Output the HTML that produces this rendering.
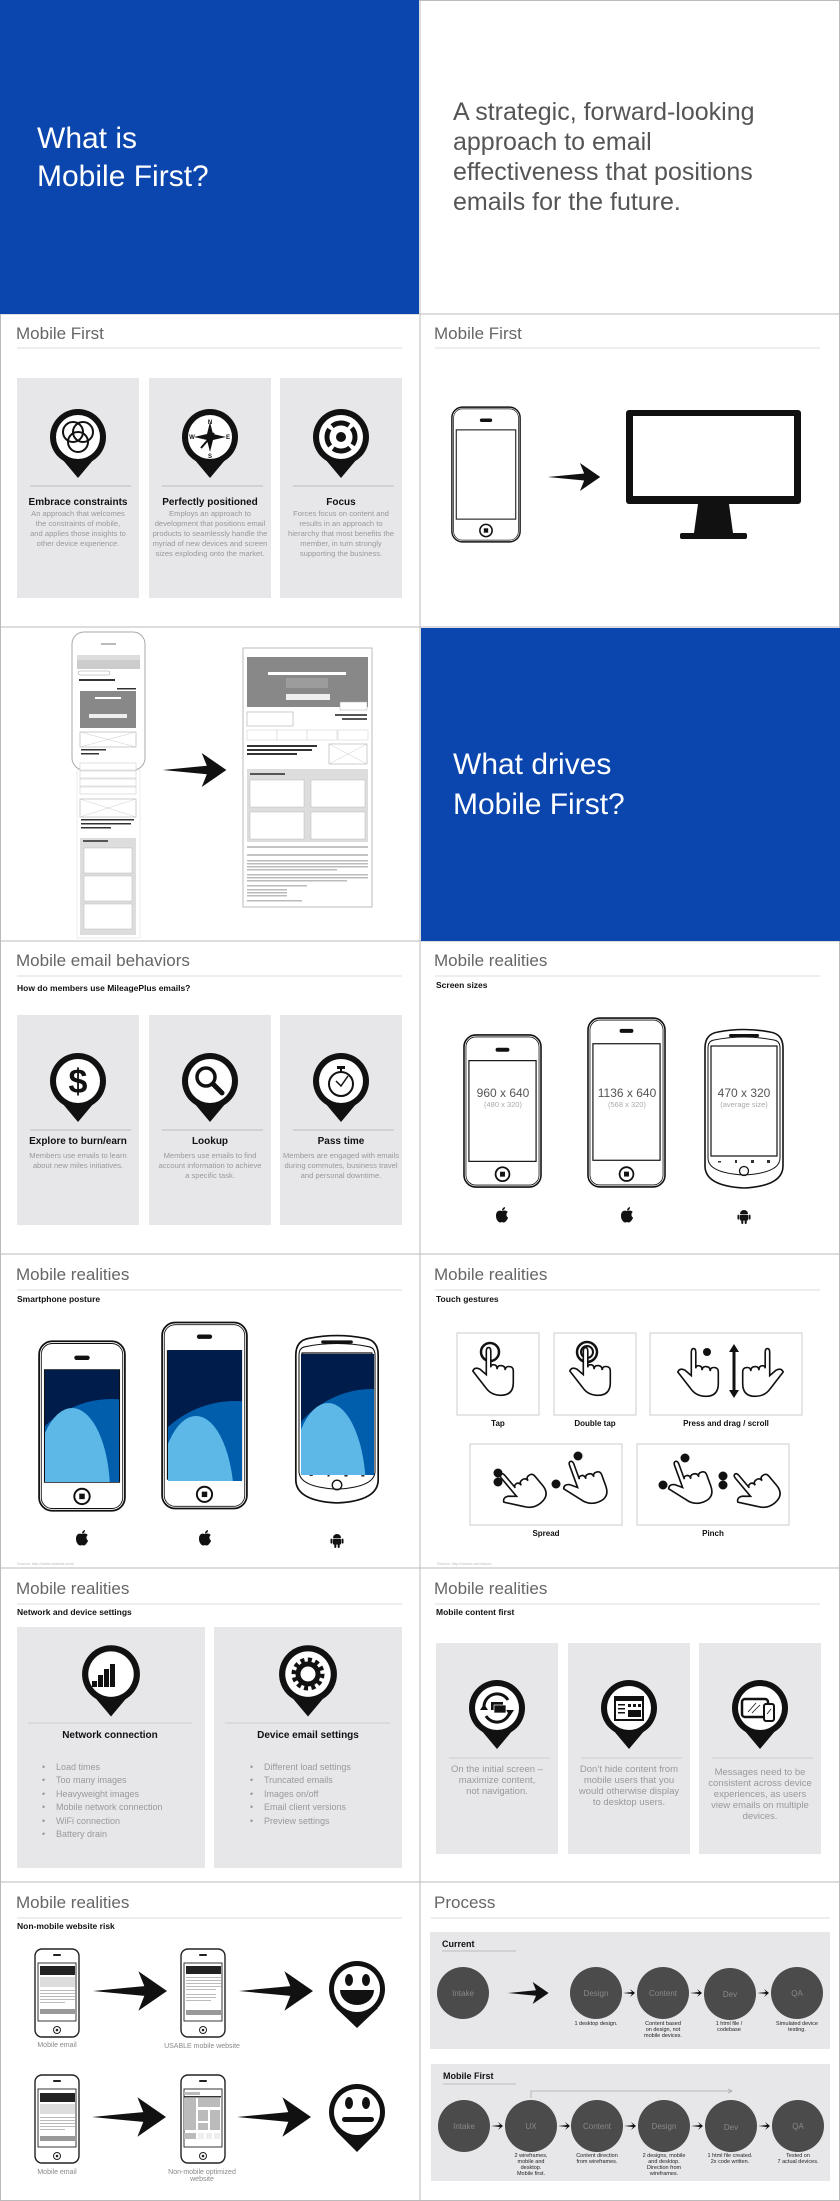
<!DOCTYPE html>
<html><head><meta charset="utf-8"><style>
html,body{margin:0;padding:0;background:#fff}
svg{display:block}
text{font-family:"Liberation Sans",sans-serif}
.t{font-size:17px;fill:#666}
.st{font-size:8.5px;font-weight:bold;fill:#111}
.ct{font-size:10px;font-weight:bold;fill:#111;text-anchor:middle}
.cd{font-size:7.6px;fill:#999;text-anchor:middle}
.bl{font-size:9px;fill:#999}
.pc{font-size:8px;fill:#888;text-anchor:middle}
.cap{font-size:5.5px;fill:#222;text-anchor:middle}
</style></head><body>
<svg width="840" height="2201" viewBox="0 0 840 2201" xmlns="http://www.w3.org/2000/svg">
<defs>
<symbol id="pin" viewBox="0 0 60 80"><circle cx="30" cy="30" r="28" fill="#111"/><polygon points="9,46 51,46 30,71" fill="#111"/><circle cx="30" cy="30" r="22" fill="#fff"/></symbol>
<symbol id="ip4" viewBox="0 0 80 156"><rect x="1" y="1" width="78" height="154" rx="12" fill="#fff" stroke="#111" stroke-width="1.6"/><rect x="3" y="3" width="74" height="150" rx="10" fill="none" stroke="#111" stroke-width="0.8"/><rect x="33" y="14" width="14" height="4" rx="2" fill="#111"/><rect x="6" y="27" width="68" height="102" fill="none" stroke="#111" stroke-width="1.2"/><circle cx="40" cy="142" r="7" fill="none" stroke="#111" stroke-width="1.8"/><rect x="37.5" y="139.5" width="5" height="5" fill="#111"/></symbol>
<symbol id="ip5" viewBox="0 0 80 173"><rect x="1" y="1" width="78" height="171" rx="12" fill="#fff" stroke="#111" stroke-width="1.6"/><rect x="3" y="3" width="74" height="167" rx="10" fill="none" stroke="#111" stroke-width="0.8"/><rect x="33" y="12" width="14" height="4" rx="2" fill="#111"/><rect x="6" y="27" width="68" height="118" fill="none" stroke="#111" stroke-width="1.2"/><circle cx="40" cy="159" r="7" fill="none" stroke="#111" stroke-width="1.8"/><rect x="37.5" y="156.5" width="5" height="5" fill="#111"/></symbol>
<symbol id="andr" viewBox="0 0 80 161"><path d="M14 4 Q40 -1 66 4 Q79 6 79 20 V138 Q79 158 40 160 Q1 158 1 138 V20 Q1 6 14 4Z" fill="#fff" stroke="#111" stroke-width="1.6"/><path d="M10 12 Q40 6 70 12 Q76 13 76 20 V130 Q76 145 40 147 Q4 145 4 130 V20 Q4 13 10 12Z" fill="none" stroke="#111" stroke-width="1"/><rect x="25" y="6" width="30" height="3" rx="1.5" fill="#111"/><rect x="7" y="18" width="66" height="110" fill="none" stroke="#111" stroke-width="1.2"/><circle cx="40" cy="143" r="4.5" fill="none" stroke="#111" stroke-width="1.3"/><g fill="#333"><rect x="14" y="133" width="3" height="1.5"/><rect x="31" y="132" width="2" height="3"/><rect x="47" y="132" width="3" height="3"/><rect x="63" y="132" width="3" height="3"/></g></symbol>
<symbol id="sip" viewBox="0 0 46 90"><rect x="1" y="1" width="44" height="88" rx="7" fill="#fff" stroke="#222" stroke-width="1.4"/><rect x="19" y="6" width="8" height="2" rx="1" fill="#222"/><rect x="4" y="15" width="38" height="58" fill="#fff" stroke="#222" stroke-width="0.9"/><circle cx="23" cy="82" r="3.5" fill="none" stroke="#222" stroke-width="1"/><circle cx="23" cy="82" r="1.3" fill="#222"/></symbol>
<symbol id="arrow" viewBox="0 0 75 40"><polygon points="0,20 52,15 46,0 75,20 46,40 52,25" fill="#111"/></symbol>
<symbol id="apple" viewBox="0 0 14 16"><path d="M7 4 C4 3 1 4 1 9 C1 13 4 16 5.5 15.5 C6.5 15 7.5 15 8.5 15.5 C10 16 13 12 13 10.5 C11 9.5 11 6 12.8 5 C11.5 3.5 9.5 3 7 4Z" fill="#111"/><path d="M7 3.5 C7 2 8 0.5 10 0 C10 2 9 3.2 7 3.5Z" fill="#111"/></symbol>
<symbol id="droid" viewBox="0 0 14 16"><path d="M3 6 A4 4 0 0 1 11 6Z" fill="#111"/><rect x="3" y="6.6" width="8" height="6" rx="1" fill="#111"/><rect x="0.5" y="6.6" width="2" height="5" rx="1" fill="#111"/><rect x="11.5" y="6.6" width="2" height="5" rx="1" fill="#111"/><rect x="4.3" y="12" width="2" height="4" rx="1" fill="#111"/><rect x="7.7" y="12" width="2" height="4" rx="1" fill="#111"/></symbol>
<symbol id="hand" viewBox="0 0 50 60"><path d="M17 8 V34 L10 28 Q4 25 2 30 L16 48 Q22 57 33 57 Q47 57 47 43 V30 Q47 25 42 25 Q38 25 38 29 Q38 24 33 24 Q29 24 29 28 Q29 23 25 23 Q22 23 22 26 V8 Q22 4 19.5 4 Q17 4 17 8Z" fill="#fff" stroke="#111" stroke-width="1.8"/></symbol>
<clipPath id="c1"><rect x="45" y="1370" width="74" height="112"/></clipPath>
<clipPath id="c2"><rect x="168" y="1350" width="74" height="131"/></clipPath>
<clipPath id="c3"><rect x="301" y="1354" width="73" height="121"/></clipPath>
</defs>

<g fill="none" stroke="#bbb" stroke-width="1">
<rect x="0.5" y="0.5" width="839" height="2200"/>
<line x1="420" y1="0" x2="420" y2="2201"/>
<line x1="0" y1="314" x2="840" y2="314"/><line x1="0" y1="627" x2="840" y2="627"/><line x1="0" y1="941" x2="840" y2="941"/><line x1="0" y1="1254" x2="840" y2="1254"/><line x1="0" y1="1568" x2="840" y2="1568"/><line x1="0" y1="1882" x2="840" y2="1882"/>
</g>

<rect x="0" y="0" width="419" height="314" fill="#0a46ad"/>
<text x="37" y="148" font-size="30" fill="#fff">What is</text>
<text x="37" y="186" font-size="30" fill="#fff">Mobile First?</text>
<g font-size="25" fill="#555"><text x="453" y="120">A strategic, forward-looking</text><text x="453" y="150">approach to email</text><text x="453" y="180">effectiveness that positions</text><text x="453" y="210">emails for the future.</text></g>

<text class="t" x="16" y="339">Mobile First</text><line x1="17" y1="348" x2="402" y2="348" stroke="#ddd"/>
<g fill="#e7e7ea"><rect x="17" y="378" width="122" height="220"/><rect x="149" y="378" width="122" height="220"/><rect x="280" y="378" width="122" height="220"/></g>
<use href="#pin" x="48" y="407" width="60" height="80"/><use href="#pin" x="180" y="407" width="60" height="80"/><use href="#pin" x="311" y="407" width="60" height="80"/>
<g fill="none" stroke="#111" stroke-width="2"><circle cx="73" cy="432" r="10"/><circle cx="83" cy="432" r="10"/><circle cx="78" cy="442" r="10"/></g>
<g fill="#111"><polygon points="210,422 213,434 226,437 213,440 210,452 207,440 194,437 207,434"/><line x1="201" y1="448" x2="214" y2="433" stroke="#111" stroke-width="2"/><text x="210" y="424" font-size="6" text-anchor="middle" font-weight="bold">N</text><text x="210" y="458" font-size="6" text-anchor="middle" font-weight="bold">S</text><text x="192" y="439" font-size="6" text-anchor="middle" font-weight="bold">W</text><text x="228" y="439" font-size="6" text-anchor="middle" font-weight="bold">E</text></g>
<circle cx="341" cy="437" r="14" fill="none" stroke="#111" stroke-width="5" stroke-dasharray="18 4" transform="rotate(-40 341 437)"/><circle cx="341" cy="437" r="5" fill="#111"/>
<g stroke="#bbb"><line x1="30" y1="486" x2="131" y2="486"/><line x1="162" y1="486" x2="263" y2="486"/><line x1="293" y1="486" x2="394" y2="486"/></g>
<text class="ct" x="78" y="505">Embrace constraints</text><text class="ct" x="210" y="505">Perfectly positioned</text><text class="ct" x="341" y="505">Focus</text>
<g class="cd"><text x="78" y="516" class="cd">An approach that welcomes</text><text x="78" y="526" class="cd">the constraints of mobile,</text><text x="78" y="536" class="cd">and applies those insights to</text><text x="78" y="546" class="cd">other device experience.</text>
<text x="210" y="516" class="cd">Employs an approach to</text><text x="210" y="526" class="cd">development that positions email</text><text x="210" y="536" class="cd">products to seamlessly handle the</text><text x="210" y="546" class="cd">myriad of new devices and screen</text><text x="210" y="556" class="cd">sizes exploding onto the market.</text>
<text x="341" y="516" class="cd">Forces focus on content and</text><text x="341" y="526" class="cd">results in an approach to</text><text x="341" y="536" class="cd">hierarchy that most benefits the</text><text x="341" y="546" class="cd">member, in turn strongly</text><text x="341" y="556" class="cd">supporting the business.</text></g>

<text class="t" x="434" y="339">Mobile First</text><line x1="435" y1="348" x2="820" y2="348" stroke="#ddd"/>
<use href="#ip4" x="451" y="406" width="70" height="137"/>
<use href="#arrow" x="543" y="463" width="62" height="28"/>
<rect x="626" y="410" width="175" height="94" rx="3" fill="#111"/><rect x="633" y="416" width="161" height="80" fill="#fff"/>
<polygon points="698,504 729,504 733,533 694,533" fill="#111"/><rect x="680" y="533" width="67" height="6" rx="2" fill="#111"/>

<rect x="72" y="632" width="73" height="138" rx="12" fill="#fff" stroke="#aaa"/>
<rect x="101" y="643" width="15" height="2" fill="#bbb"/>
<rect x="77" y="655" width="63" height="5" fill="#ddd"/><rect x="77" y="660" width="63" height="9" fill="#ccc"/>
<rect x="78" y="671" width="32" height="4" rx="2" fill="#fff" stroke="#999" stroke-width="0.5"/>
<rect x="79" y="679" width="36" height="2" fill="#333"/><rect x="117" y="688" width="19" height="1.5" fill="#333"/>
<rect x="80" y="691" width="56" height="37" fill="#888"/><rect x="89" y="714" width="38" height="4" fill="#eee"/><rect x="95" y="697" width="26" height="2" fill="#fff"/>
<rect x="80" y="732" width="56" height="15" fill="#fff" stroke="#aaa" stroke-width="0.6"/><path d="M80 732 L136 747 M136 732 L80 747" stroke="#ccc" stroke-width="0.5"/>
<rect x="81" y="749" width="25" height="1.5" fill="#333"/><rect x="81" y="753" width="18" height="1.5" fill="#333"/>
<rect x="77" y="770" width="63" height="168" fill="#fff" stroke="#ddd" stroke-width="0.5"/>
<g fill="#fff" stroke="#ccc" stroke-width="0.6"><rect x="80" y="763" width="56" height="7"/><rect x="80" y="771" width="56" height="7"/><rect x="80" y="779" width="56" height="7"/><rect x="80" y="787" width="56" height="7"/></g>
<rect x="80" y="799" width="56" height="18" fill="#fff" stroke="#aaa" stroke-width="0.6"/><path d="M80 799 L136 817 M136 799 L80 817" stroke="#ccc" stroke-width="0.5"/>
<rect x="81" y="819" width="53" height="1.5" fill="#333"/><rect x="81" y="823" width="50" height="1.5" fill="#333"/><rect x="81" y="827" width="30" height="1.5" fill="#333"/>
<rect x="80" y="838" width="56" height="97" fill="#ddd"/><rect x="83" y="840" width="25" height="2" fill="#555"/>
<g fill="#fff" stroke="#bbb" stroke-width="0.5"><rect x="84" y="848" width="48" height="25"/><rect x="84" y="876" width="48" height="25"/><rect x="84" y="904" width="48" height="25"/></g>
<use href="#arrow" x="157" y="753" width="75" height="34"/>
<rect x="243" y="648" width="129" height="259" fill="#fff" stroke="#bbb"/>
<rect x="247" y="657" width="121" height="50" fill="#888"/><rect x="268" y="672" width="78" height="3" fill="#fff"/><rect x="286" y="678" width="42" height="10" fill="#aaa" opacity="0.6"/><rect x="286" y="694" width="44" height="6" fill="#eee"/>
<rect x="340" y="702" width="27" height="8" fill="#fff" stroke="#aaa" stroke-width="0.5"/>
<rect x="247" y="712" width="46" height="14" fill="#fff" stroke="#aaa" stroke-width="0.6"/><rect x="335" y="714" width="32" height="2" fill="#555"/><rect x="342" y="718" width="25" height="2" fill="#555"/>
<g fill="#fff" stroke="#ccc" stroke-width="0.5"><rect x="247" y="730" width="30" height="10"/><rect x="277" y="730" width="30" height="10"/><rect x="307" y="730" width="30" height="10"/><rect x="338" y="730" width="30" height="10"/></g>
<rect x="247" y="745" width="70" height="2" fill="#333"/><rect x="247" y="749" width="65" height="2" fill="#333"/><rect x="247" y="753" width="50" height="2" fill="#333"/>
<rect x="329" y="744" width="38" height="20" fill="#fff" stroke="#aaa" stroke-width="0.6"/><path d="M329 744 L367 764 M367 744 L329 764" stroke="#ccc" stroke-width="0.5"/>
<rect x="247" y="769" width="121" height="73" fill="#ddd"/><rect x="250" y="773" width="35" height="2" fill="#555"/>
<g fill="#fff" stroke="#bbb" stroke-width="0.5"><rect x="250" y="780" width="54" height="27"/><rect x="311" y="780" width="54" height="27"/><rect x="250" y="812" width="54" height="27"/><rect x="311" y="812" width="54" height="27"/></g>
<line x1="247" y1="847" x2="368" y2="847" stroke="#888"/><line x1="247" y1="855" x2="368" y2="855" stroke="#888"/>
<g fill="#bbb"><rect x="247" y="860" width="121" height="1.5"/><rect x="247" y="863" width="121" height="1.5"/><rect x="247" y="866" width="121" height="1.5"/><rect x="247" y="869" width="90" height="1.5"/><rect x="247" y="874" width="121" height="1.5"/><rect x="247" y="877" width="121" height="1.5"/><rect x="247" y="880" width="100" height="1.5"/><rect x="247" y="885" width="60" height="1.5"/><rect x="247" y="889" width="40" height="1.5"/><rect x="247" y="892" width="40" height="1.5"/><rect x="247" y="895" width="40" height="1.5"/><rect x="247" y="900" width="55" height="1.5"/></g>

<rect x="421" y="628" width="419" height="313" fill="#0a46ad"/>
<text x="453" y="774" font-size="30" fill="#fff">What drives</text>
<text x="453" y="814" font-size="30" fill="#fff">Mobile First?</text>

<text class="t" x="16" y="966">Mobile email behaviors</text><line x1="17" y1="976" x2="402" y2="976" stroke="#ddd"/>
<text class="st" x="17" y="991">How do members use MileagePlus emails?</text>
<g fill="#e7e7ea"><rect x="17" y="1015" width="122" height="210"/><rect x="149" y="1015" width="122" height="210"/><rect x="280" y="1015" width="122" height="210"/></g>
<use href="#pin" x="48" y="1051" width="60" height="80"/><use href="#pin" x="180" y="1051" width="60" height="80"/><use href="#pin" x="311" y="1051" width="60" height="80"/>
<text x="78" y="1093" font-size="34" font-weight="bold" text-anchor="middle" fill="#111">$</text>
<circle cx="206" cy="1077" r="9" fill="none" stroke="#111" stroke-width="3.5"/><line x1="213" y1="1084" x2="222" y2="1093" stroke="#111" stroke-width="5" stroke-linecap="round"/>
<circle cx="341" cy="1084" r="12" fill="none" stroke="#111" stroke-width="2"/><rect x="337" y="1066" width="8" height="3" fill="#111"/><line x1="341" y1="1069" x2="341" y2="1072" stroke="#111" stroke-width="2"/><path d="M336 1081 L341 1086 L348 1076" fill="none" stroke="#111" stroke-width="1.5"/>
<g stroke="#bbb"><line x1="30" y1="1130" x2="131" y2="1130"/><line x1="162" y1="1130" x2="263" y2="1130"/><line x1="293" y1="1130" x2="394" y2="1130"/></g>
<text class="ct" x="78" y="1144">Explore to burn/earn</text><text class="ct" x="210" y="1144">Lookup</text><text class="ct" x="341" y="1144">Pass time</text>
<text x="78" y="1158" class="cd">Members use emails to learn</text><text x="78" y="1168" class="cd">about new miles initiatives.</text>
<text x="210" y="1158" class="cd">Members use emails to find</text><text x="210" y="1168" class="cd">account information to achieve</text><text x="210" y="1178" class="cd">a specific task.</text>
<text x="341" y="1158" class="cd">Members are engaged with emails</text><text x="341" y="1168" class="cd">during commutes, business travel</text><text x="341" y="1178" class="cd">and personal downtime.</text>

<text class="t" x="434" y="966">Mobile realities</text><line x1="435" y1="976" x2="820" y2="976" stroke="#ddd"/>
<text class="st" x="436" y="988">Screen sizes</text>
<use href="#ip4" x="463" y="1033" width="79" height="156"/>
<use href="#ip5" x="587" y="1016" width="79" height="173"/>
<use href="#andr" x="704" y="1028" width="80" height="161"/>
<g text-anchor="middle"><text x="503" y="1097" font-size="12" fill="#555">960 x 640</text><text x="503" y="1107" font-size="7.5" fill="#aaa">(480 x 320)</text>
<text x="627" y="1097" font-size="12" fill="#555">1136 x 640</text><text x="627" y="1107" font-size="7.5" fill="#aaa">(568 x 320)</text>
<text x="744" y="1097" font-size="12" fill="#555">470 x 320</text><text x="744" y="1107" font-size="7.5" fill="#aaa">(average size)</text></g>
<use href="#apple" x="495" y="1207" width="14" height="16"/><use href="#apple" x="620" y="1207" width="14" height="16"/><use href="#droid" x="737" y="1208" width="14" height="16"/>

<text class="t" x="16" y="1280">Mobile realities</text><line x1="17" y1="1290" x2="402" y2="1290" stroke="#ddd"/>
<text class="st" x="17" y="1302">Smartphone posture</text>
<use href="#ip4" x="38" y="1340" width="88" height="172"/>
<use href="#ip5" x="161" y="1320" width="87" height="191"/>
<use href="#andr" x="293" y="1334" width="88" height="170"/>
<g clip-path="url(#c1)"><rect x="45" y="1370" width="74" height="112" fill="#001c4b"/><ellipse cx="112" cy="1492" rx="95" ry="93" fill="#005ead"/><ellipse cx="72" cy="1492" rx="38" ry="84" fill="#5db8e8"/></g>
<g clip-path="url(#c2)"><rect x="168" y="1350" width="74" height="131" fill="#001c4b"/><ellipse cx="235" cy="1502" rx="100" ry="101" fill="#005ead"/><ellipse cx="196" cy="1502" rx="38" ry="86" fill="#5db8e8"/></g>
<g clip-path="url(#c3)"><rect x="301" y="1354" width="73" height="121" fill="#001c4b"/><ellipse cx="372" cy="1492" rx="97" ry="103" fill="#005ead"/><ellipse cx="328" cy="1492" rx="38" ry="89" fill="#5db8e8"/></g>
<use href="#apple" x="75" y="1530" width="14" height="16"/><use href="#apple" x="198" y="1530" width="14" height="16"/><use href="#droid" x="330" y="1532" width="14" height="16"/>
<text x="17" y="1565" font-size="4" fill="#bbb">Source: http://www.statista.com/</text>

<text class="t" x="434" y="1280">Mobile realities</text><line x1="435" y1="1290" x2="820" y2="1290" stroke="#ddd"/>
<text class="st" x="436" y="1302">Touch gestures</text>
<g fill="#fff" stroke="#ccc"><rect x="457" y="1333" width="82" height="82"/><rect x="554" y="1333" width="82" height="82"/><rect x="650" y="1333" width="152" height="82"/><rect x="470" y="1444" width="152" height="81"/><rect x="637" y="1444" width="152" height="81"/></g>
<circle cx="490" cy="1352" r="9" fill="none" stroke="#111" stroke-width="2.5"/><use href="#hand" x="471" y="1344" width="45" height="54"/>
<circle cx="587" cy="1352" r="10" fill="none" stroke="#111" stroke-width="2.5"/><circle cx="587" cy="1352" r="6" fill="none" stroke="#111" stroke-width="2"/><use href="#hand" x="568" y="1344" width="45" height="54"/>
<use href="#hand" x="676" y="1345" width="45" height="54"/><circle cx="707" cy="1352" r="4" fill="#111"/>
<line x1="734" y1="1349" x2="734" y2="1393" stroke="#111" stroke-width="3"/><polygon points="729,1352 734,1344 739,1352" fill="#111"/><polygon points="729,1390 734,1398 739,1390" fill="#111"/>
<use href="#hand" x="770" y="1345" width="45" height="54" transform="scale(-1 1) translate(-1555 0)"/>
<use href="#hand" x="498" y="1462" width="45" height="54" transform="rotate(-40 520 1490)"/><circle cx="498" cy="1473" r="4.5" fill="#111"/><circle cx="498" cy="1482" r="4.5" fill="#111"/>
<use href="#hand" x="560" y="1455" width="45" height="54" transform="rotate(-20 582 1480)"/><circle cx="578" cy="1456" r="4.5" fill="#111"/><circle cx="556" cy="1484" r="4.5" fill="#111"/>
<use href="#hand" x="665" y="1455" width="45" height="54" transform="rotate(-20 687 1480)"/><circle cx="685" cy="1458" r="4.5" fill="#111"/><circle cx="663" cy="1485" r="4.5" fill="#111"/>
<use href="#hand" x="732" y="1462" width="45" height="54" transform="rotate(-40 754 1490)"/><circle cx="723" cy="1476" r="4.5" fill="#111"/><circle cx="723" cy="1485" r="4.5" fill="#111"/>
<g font-size="8" font-weight="bold" fill="#111" text-anchor="middle"><text x="498" y="1426">Tap</text><text x="595" y="1426">Double tap</text><text x="726" y="1426">Press and drag / scroll</text><text x="546" y="1536">Spread</text><text x="713" y="1536">Pinch</text></g>
<text x="437" y="1565" font-size="4" fill="#bbb">Source: http://lukew.com/touch</text>

<text class="t" x="16" y="1594">Mobile realities</text><line x1="17" y1="1604" x2="402" y2="1604" stroke="#ddd"/>
<text class="st" x="17" y="1615">Network and device settings</text>
<g fill="#e7e7ea"><rect x="17" y="1627" width="188" height="241"/><rect x="214" y="1627" width="188" height="241"/></g>
<use href="#pin" x="80" y="1643" width="62" height="83"/><use href="#pin" x="277" y="1643" width="62" height="83"/>
<g fill="#111"><rect x="92" y="1681" width="5" height="6"/><rect x="98" y="1675" width="5" height="12"/><rect x="104" y="1669" width="5" height="18"/><rect x="110" y="1664" width="5" height="23"/></g>
<circle cx="308" cy="1674" r="10" fill="none" stroke="#111" stroke-width="5"/><circle cx="308" cy="1674" r="14" fill="none" stroke="#111" stroke-width="5" stroke-dasharray="4 3.3"/>
<g stroke="#ccc"><line x1="28" y1="1723" x2="192" y2="1723"/><line x1="225" y1="1723" x2="390" y2="1723"/></g>
<text class="ct" x="110" y="1738">Network connection</text><text class="ct" x="308" y="1738">Device email settings</text>
<g class="bl"><text x="42" y="1770">•</text><text x="56" y="1770">Load times</text><text x="42" y="1783">•</text><text x="56" y="1783">Too many images</text><text x="42" y="1797">•</text><text x="56" y="1797">Heavyweight images</text><text x="42" y="1810">•</text><text x="56" y="1810">Mobile network connection</text><text x="42" y="1824">•</text><text x="56" y="1824">WiFi connection</text><text x="42" y="1837">•</text><text x="56" y="1837">Battery drain</text>
<text x="250" y="1770">•</text><text x="264" y="1770">Different load settings</text><text x="250" y="1783">•</text><text x="264" y="1783">Truncated emails</text><text x="250" y="1797">•</text><text x="264" y="1797">Images on/off</text><text x="250" y="1810">•</text><text x="264" y="1810">Email client versions</text><text x="250" y="1824">•</text><text x="264" y="1824">Preview settings</text></g>

<text class="t" x="434" y="1594">Mobile realities</text><line x1="435" y1="1604" x2="820" y2="1604" stroke="#ddd"/>
<text class="st" x="436" y="1615">Mobile content first</text>
<g fill="#e7e7ea"><rect x="436" y="1643" width="122" height="211"/><rect x="568" y="1643" width="122" height="211"/><rect x="699" y="1643" width="122" height="211"/></g>
<use href="#pin" x="467" y="1678" width="60" height="80"/><use href="#pin" x="599" y="1678" width="60" height="80"/><use href="#pin" x="730" y="1678" width="60" height="80"/>
<path d="M484 1706 A13 13 0 0 1 508 1700" fill="none" stroke="#111" stroke-width="3"/><path d="M510 1710 A13 13 0 0 1 486 1716" fill="none" stroke="#111" stroke-width="3"/><polygon points="480,1706 488,1706 484,1712" fill="#111" transform="rotate(180 484 1708)"/><polygon points="506,1710 514,1710 510,1716" fill="#111"/><rect x="491" y="1702" width="12" height="8" fill="#111"/><rect x="494" y="1705" width="12" height="8" fill="#111" stroke="#fff" stroke-width="0.7"/>
<rect x="615" y="1697" width="28" height="23" fill="#fff" stroke="#111" stroke-width="2"/><rect x="615" y="1697" width="28" height="4" fill="#111"/><g fill="#111"><rect x="618" y="1704" width="7" height="1.5"/><rect x="618" y="1708" width="7" height="1.5"/><rect x="618" y="1712" width="7" height="1.5"/><rect x="628" y="1704" width="3" height="3"/><rect x="633" y="1704" width="3" height="3"/><rect x="638" y="1704" width="3" height="3"/><rect x="628" y="1710" width="13" height="7"/></g>
<rect x="742" y="1699" width="26" height="18" rx="3" fill="#fff" stroke="#111" stroke-width="2.5"/><rect x="764" y="1704" width="10" height="17" rx="2" fill="#fff" stroke="#111" stroke-width="2"/><path d="M748 1712 L756 1703 M752 1713 L760 1705 M767 1714 L771 1709" stroke="#111" stroke-width="0.8"/>
<g stroke="#ccc"><line x1="449" y1="1758" x2="550" y2="1758"/><line x1="581" y1="1758" x2="682" y2="1758"/><line x1="712" y1="1758" x2="813" y2="1758"/></g>
<g font-size="9.5" fill="#999" text-anchor="middle"><text x="497" y="1772">On the initial screen –</text><text x="497" y="1783">maximize content,</text><text x="497" y="1794">not navigation.</text>
<text x="629" y="1772">Don’t hide content from</text><text x="629" y="1783">mobile users that you</text><text x="629" y="1794">would otherwise display</text><text x="629" y="1805">to desktop users.</text>
<text x="760" y="1775">Messages need to be</text><text x="760" y="1786">consistent across device</text><text x="760" y="1797">experiences, as users</text><text x="760" y="1808">view emails on multiple</text><text x="760" y="1819">devices.</text></g>

<text class="t" x="16" y="1908">Mobile realities</text><line x1="17" y1="1918" x2="402" y2="1918" stroke="#ddd"/>
<text class="st" x="17" y="1929">Non-mobile website risk</text>
<use href="#sip" x="34" y="1948" width="46" height="90"/><use href="#sip" x="180" y="1948" width="46" height="90"/><use href="#sip" x="34" y="2074" width="46" height="90"/><use href="#sip" x="180" y="2074" width="46" height="90"/>
<g fill="#222"><rect x="40" y="1966" width="35" height="9"/><rect x="40" y="2093" width="35" height="9"/><rect x="186" y="1966" width="35" height="8"/></g>
<g fill="#ddd"><rect x="40" y="1977" width="35" height="10"/><rect x="40" y="2104" width="35" height="10"/></g>
<g fill="#999"><rect x="40" y="2009" width="35" height="5"/><rect x="40" y="2136" width="35" height="5"/><rect x="186" y="2010" width="35" height="5"/></g>
<g fill="#bbb"><rect x="40" y="1990" width="35" height="1"/><rect x="40" y="1993" width="35" height="1"/><rect x="40" y="1996" width="35" height="1"/><rect x="40" y="1999" width="35" height="1"/><rect x="40" y="2002" width="25" height="1"/><rect x="40" y="2117" width="35" height="1"/><rect x="40" y="2120" width="35" height="1"/><rect x="40" y="2123" width="35" height="1"/><rect x="40" y="2126" width="35" height="1"/><rect x="40" y="2129" width="25" height="1"/><rect x="186" y="1977" width="35" height="1"/><rect x="186" y="1980" width="35" height="1"/><rect x="186" y="1983" width="35" height="1"/><rect x="186" y="1986" width="35" height="1"/><rect x="186" y="1989" width="30" height="1"/><rect x="186" y="1994" width="30" height="1"/><rect x="186" y="1997" width="30" height="1"/><rect x="186" y="2000" width="25" height="1"/></g>
<g fill="#bbb"><rect x="184" y="2092" width="16" height="3"/><rect x="184" y="2098" width="12" height="32"/><rect x="198" y="2098" width="22" height="9"/><rect x="198" y="2110" width="10" height="11"/><rect x="210" y="2110" width="10" height="20"/><rect x="198" y="2123" width="10" height="7"/><rect x="184" y="2133" width="12" height="6"/></g><rect x="184" y="2096" width="37" height="1.5" fill="#333"/><g fill="#eee"><rect x="198" y="2133" width="6" height="6"/><rect x="206" y="2133" width="6" height="6"/><rect x="214" y="2133" width="6" height="6"/></g>
<use href="#arrow" x="93" y="1970" width="74" height="42"/><use href="#arrow" x="239" y="1970" width="74" height="42"/><use href="#arrow" x="92" y="2096" width="74" height="42"/><use href="#arrow" x="237" y="2096" width="74" height="42"/>
<circle cx="357" cy="1989" r="28" fill="#111"/><polygon points="336,2008 378,2008 357,2028" fill="#111"/><circle cx="357" cy="1989" r="23" fill="#fff"/><ellipse cx="349" cy="1980" rx="4" ry="6" fill="#111"/><ellipse cx="366" cy="1980" rx="4" ry="6" fill="#111"/><path d="M340 1990 H374 A17 15 0 0 1 340 1990Z" fill="#111"/>
<circle cx="357" cy="2112" r="28" fill="#111"/><polygon points="336,2131 378,2131 357,2152" fill="#111"/><circle cx="357" cy="2112" r="23" fill="#fff"/><ellipse cx="349" cy="2103" rx="4" ry="6" fill="#111"/><ellipse cx="366" cy="2103" rx="4" ry="6" fill="#111"/><rect x="342" y="2117" width="32" height="5" rx="2.5" fill="#111"/>
<g font-size="7" fill="#888" text-anchor="middle"><text x="57" y="2047">Mobile email</text><text x="202" y="2048">USABLE mobile website</text><text x="57" y="2174">Mobile email</text><text x="202" y="2174">Non-mobile optimized</text><text x="202" y="2181">website</text></g>

<text class="t" x="434" y="1908">Process</text><line x1="431" y1="1918" x2="830" y2="1918" stroke="#ddd"/>
<rect x="430" y="1932" width="400" height="117" fill="#e7e7ea"/>
<text x="442" y="1947" font-size="9" font-weight="bold" fill="#111">Current</text><line x1="442" y1="1951" x2="516" y2="1951" stroke="#bbb"/>
<g fill="#4b4b4b"><circle cx="463" cy="1993" r="26"/><circle cx="596" cy="1993" r="26"/><circle cx="663" cy="1993" r="26"/><circle cx="730" cy="1994" r="26"/><circle cx="797" cy="1993" r="26"/></g>
<use href="#arrow" x="506" y="1982" width="44" height="22"/>
<g fill="#111"><polygon points="623,1993 632,1992 630,1989 635,1993 630,1997 632,1994"/><polygon points="690,1993 699,1992 697,1989 702,1993 697,1997 699,1994"/><polygon points="757,1993 766,1992 764,1989 769,1993 764,1997 766,1994"/></g>
<g class="pc"><text x="463" y="1996">Intake</text><text x="596" y="1996">Design</text><text x="663" y="1996">Content</text><text x="730" y="1997">Dev</text><text x="797" y="1996">QA</text></g>
<g class="cap"><text x="596" y="2025">1 desktop design.</text><text x="663" y="2025">Content based</text><text x="663" y="2031">on design, not</text><text x="663" y="2037">mobile devices.</text><text x="729" y="2025">1 html file /</text><text x="729" y="2031">codebase</text><text x="797" y="2025">Simulated device</text><text x="797" y="2031">testing.</text></g>
<rect x="431" y="2064" width="399" height="117" fill="#e7e7ea"/>
<text x="443" y="2079" font-size="9" font-weight="bold" fill="#111">Mobile First</text><line x1="443" y1="2084" x2="516" y2="2084" stroke="#bbb"/>
<path d="M531 2098 V2091 H731" fill="none" stroke="#aaa" stroke-width="0.8"/><path d="M728 2089 L732 2091 L728 2093" fill="none" stroke="#aaa" stroke-width="0.8"/>
<g fill="#4b4b4b"><circle cx="464" cy="2126" r="26"/><circle cx="531" cy="2126" r="26"/><circle cx="597" cy="2126" r="26"/><circle cx="664" cy="2126" r="26"/><circle cx="731" cy="2126" r="26"/><circle cx="798" cy="2126" r="26"/></g>
<g fill="#111"><polygon points="491,2126 500,2125 498,2122 503,2126 498,2130 500,2127"/><polygon points="558,2126 567,2125 565,2122 570,2126 565,2130 567,2127"/><polygon points="624,2126 633,2125 631,2122 636,2126 631,2130 633,2127"/><polygon points="691,2126 700,2125 698,2122 703,2126 698,2130 700,2127"/><polygon points="758,2126 767,2125 765,2122 770,2126 765,2130 767,2127"/></g>
<g class="pc"><text x="464" y="2129">Intake</text><text x="531" y="2129">UX</text><text x="597" y="2129">Content</text><text x="664" y="2129">Design</text><text x="731" y="2130">Dev</text><text x="798" y="2129">QA</text></g>
<g class="cap"><text x="531" y="2157">2 wireframes,</text><text x="531" y="2163">mobile and</text><text x="531" y="2169">desktop.</text><text x="531" y="2175">Mobile first.</text><text x="597" y="2157">Content direction</text><text x="597" y="2163">from wireframes.</text><text x="664" y="2157">2 designs, mobile</text><text x="664" y="2163">and desktop.</text><text x="664" y="2169">Direction from</text><text x="664" y="2175">wireframes.</text><text x="730" y="2157">1 html file created.</text><text x="730" y="2163">2x code written.</text><text x="798" y="2157">Tested on</text><text x="798" y="2163">7 actual devices.</text></g>
</svg>
</body></html>
